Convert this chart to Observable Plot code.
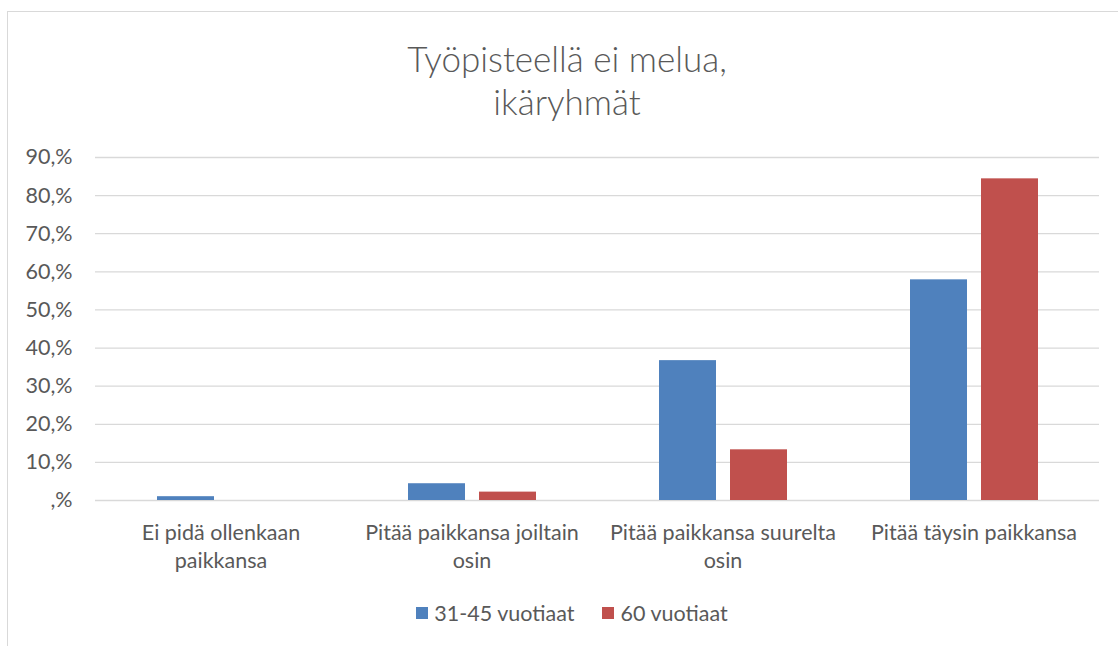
<!DOCTYPE html>
<html>
<head>
<meta charset="utf-8">
<script src="https://cdn.jsdelivr.net/npm/d3@7"></script>
<script src="https://cdn.jsdelivr.net/npm/@observablehq/plot@0.6"></script>
<style>
  html, body { margin: 0; padding: 0; background: #fff; }
  body { width: 1118px; height: 646px; overflow: hidden; position: relative; font-family: Lato, "Open Sans", sans-serif; color: #595959; }
  #frame { position: absolute; left: 7px; top: 11px; width: 1200px; height: 700px; border: 1px solid #d9d9d9; box-sizing: border-box; }
  #title { position: absolute; left: 0; top: 37px; width: 1134px; text-align: center; font-size: 35px; font-weight: 300; line-height: 43px; color: #595959; }
  #chart { position: absolute; left: 0; top: 140px; }
  #legend { position: absolute; top: 600px; left: 0; width: 1144px; display: flex; justify-content: center; gap: 28px; font-size: 21.5px; color: #595959; }
  .item { display: flex; align-items: center; gap: 6px; }
  .sw { width: 12px; height: 12px; display: inline-block; }
</style>
</head>
<body>
<div id="frame"></div>
<div id="title">Työpisteellä ei melua,<br>ikäryhmät</div>
<div id="chart"></div>
<div id="legend"></div>
<script>
const categories = ["Ei pidä ollenkaan paikkansa", "Pitää paikkansa joiltain osin", "Pitää paikkansa suurelta osin", "Pitää täysin paikkansa"];
const categoryLabels = ["Ei pidä ollenkaan\npaikkansa", "Pitää paikkansa joiltain\nosin", "Pitää paikkansa suurelta\nosin", "Pitää täysin paikkansa"];
const series = ["31-45 vuotiaat", "60 vuotiaat"];
const values3145 = [1.0, 4.4, 36.7, 57.9];
const values60 = [0, 2.2, 13.3, 84.4];
const colors = ["#4f81bd", "#c0504d"];
const yTicks = [0, 10, 20, 30, 40, 50, 60, 70, 80, 90];
const yTickLabels = [",%", "10,%", "20,%", "30,%", "40,%", "50,%", "60,%", "70,%", "80,%", "90,%"];

const data = [];
categories.forEach((c, i) => {
  data.push({category: c, series: series[0], value: values3145[i]});
  data.push({category: c, series: series[1], value: values60[i]});
});

const chart = Plot.plot({
  width: 1118,
  height: 440,
  marginLeft: 95,
  marginRight: 19,
  marginTop: 17,
  marginBottom: 80,
  style: {fontFamily: "Lato, 'Open Sans', sans-serif", color: "#595959", background: "transparent"},
  fx: {domain: categories, padding: 0, axis: null},
  x: {domain: series, paddingInner: 0.2, paddingOuter: 0.86, axis: null},
  y: {domain: [0, 90], axis: null},
  color: {domain: series, range: colors},
  marks: [
    Plot.ruleY(yTicks, {y: d => d, stroke: "#d9d9d9", strokeWidth: 1.3}),
    Plot.barY(data, {fx: "category", x: "series", y: "value", fill: "series"}),
    Plot.axisY({ticks: yTicks, tickFormat: d => yTickLabels[yTicks.indexOf(d)], tickSize: 0, tickPadding: 23, fontSize: 21.5, fill: "#595959", label: null}),
    Plot.axisFx({anchor: "bottom", tickFormat: d => categoryLabels[categories.indexOf(d)], tickSize: 0, tickPadding: 20, fontSize: 21.5, lineHeight: 1.3, fill: "#595959", label: null})
  ]
});
document.getElementById("chart").appendChild(chart);

const legend = document.getElementById("legend");
series.forEach((s, i) => {
  const item = document.createElement("div");
  item.className = "item";
  const sw = document.createElement("span");
  sw.className = "sw";
  sw.style.background = colors[i];
  const t = document.createElement("span");
  t.textContent = s;
  item.appendChild(sw);
  item.appendChild(t);
  legend.appendChild(item);
});
</script>
</body>
</html>
